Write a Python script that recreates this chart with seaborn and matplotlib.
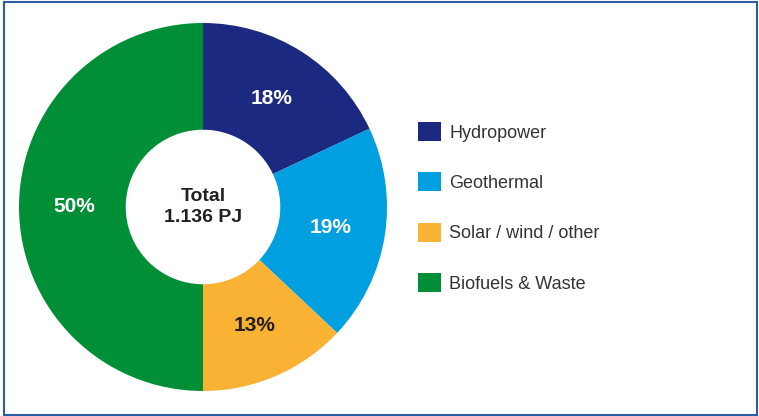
import matplotlib
matplotlib.use("Agg")
import matplotlib.pyplot as plt
from matplotlib.patches import Rectangle
import seaborn as sns

# data
categories = ["Hydropower", "Geothermal", "Solar / wind / other", "Biofuels & Waste"]
shares = [18, 19, 13, 50]
colors = ["#1b2a80", "#009fe0", "#f9b234", "#008f36"]
label_colors = ["white", "white", "#231f20", "white"]
center_text = "Total\n1.136 PJ"

sns.set_style("white")
plt.rcParams["font.family"] = ["Liberation Sans", "DejaVu Sans"]

fig = plt.figure(figsize=(7.59, 4.16), dpi=100)
ax = fig.add_axes([19 / 759, 25 / 416, 368 / 759, 368 / 416])

wedges, _, pcts = ax.pie(
    shares,
    colors=colors,
    startangle=90,
    counterclock=False,
    radius=1.0,
    autopct="%d%%",
    pctdistance=0.70,
    wedgeprops=dict(width=0.58, linewidth=0),
    textprops=dict(fontsize=15, fontweight="bold"),
)
for t, c in zip(pcts, label_colors):
    t.set_color(c)

ax.text(0, 0, center_text, ha="center", va="center", fontsize=14,
        fontweight="bold", color="#231f20", linespacing=1.3)
ax.set_xlim(-1, 1)
ax.set_ylim(-1, 1)
ax.set_aspect("equal")
ax.axis("off")

fig.legend(
    wedges, categories,
    loc="upper left", bbox_to_anchor=(418 / 759, 1 - 122 / 416),
    frameon=False, fontsize=13, handlelength=1.27, handleheight=1.25,
    labelspacing=1.7, handletextpad=0.45, borderpad=0, borderaxespad=0,
    labelcolor="#333333",
)

fig.add_artist(Rectangle((3.5 / 759, 1.5 / 416), 753 / 759, 413 / 416,
                         transform=fig.transFigure, fill=False,
                         edgecolor="#2f5ca6", linewidth=1.5))

fig.savefig("out.png", dpi=100)
